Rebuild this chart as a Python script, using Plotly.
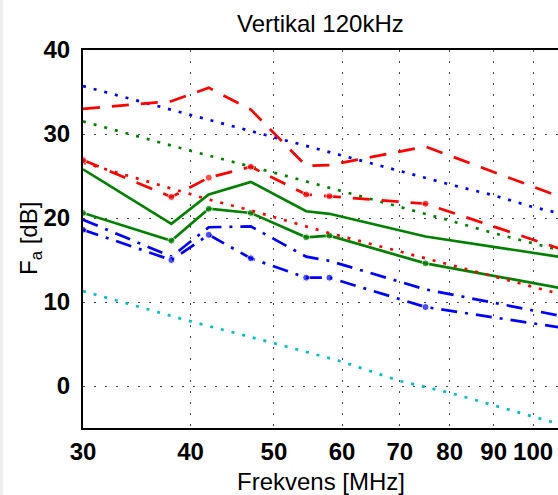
import math
import plotly.graph_objects as go

# measured frequencies (MHz) and field strengths (dB)
freq = [30, 38, 42, 47, 54.5, 58, 75, 107]
red_dash = [33.0, 33.9, 35.5, 32.9, 26.2, 26.3, 28.5, 22.6]
red_dash_marked = [26.9, 22.5, 24.8, 26.1, 22.8, 22.6, 21.7, 16.4]
red_dot = [26.6, 23.5, 22.2, 20.9, 19.0, 18.2, 15.2, 11.0]
green_solid = [25.8, 19.3, 22.8, 24.3, 20.8, 20.5, 17.8, 15.4]
green_solid_marked = [20.6, 17.3, 21.1, 20.6, 17.7, 17.9, 14.6, 11.7]
blue_dashdot = [19.8, 15.4, 18.9, 19.0, 15.4, 14.9, 11.5, 8.4]
blue_dashdot_marked = [18.6, 15.0, 18.0, 15.2, 12.9, 12.9, 9.4, 7.0]

# reference curves
model_freq = [30, 40, 50, 60, 70, 80, 90, 100, 107]
blue_dot = [35.7, 32.3, 29.6, 27.5, 25.6, 24.0, 22.7, 21.3, 20.6]
green_dot = [31.5, 28.0, 25.4, 23.2, 21.3, 19.7, 18.2, 17.0, 16.2]
cyan_dot = [11.3, 7.7, 5.1, 2.9, 0.6, -0.8, -2.3, -3.6, -4.5]

x_ticks = [30, 40, 50, 60, 70, 80, 90, 100]
y_ticks = [0, 10, 20, 30, 40]

RED = "#FF0000"
GREEN = "#008000"
BLUE = "#0000FF"
CYAN = "#00BFBF"
DOT = "3px,8px"
DASH = "17px,12px"
DASHDOT = "16px,8px,3px,8px"
LW = 2.7

fig = go.Figure()


def add(x, y, color, dash, markers=False):
    kw = dict(x=x, y=y, mode="lines", showlegend=False, hoverinfo="skip",
              line=dict(color=color, width=LW, dash=dash))
    if markers:
        kw["mode"] = "lines+markers"
        kw["marker"] = dict(color=color, size=[7] * (len(x) - 1) + [0])
    fig.add_trace(go.Scatter(**kw))


add(model_freq, cyan_dot, CYAN, DOT)
add(model_freq, blue_dot, BLUE, DOT)
add(model_freq, green_dot, GREEN, DOT)
add(freq, blue_dashdot, BLUE, DASHDOT)
add(freq, blue_dashdot_marked, BLUE, DASHDOT, True)
add(freq, green_solid, GREEN, "solid")
add(freq, green_solid_marked, GREEN, "solid", True)
add(freq, red_dot, RED, DOT)
add(freq, red_dash_marked, RED, DASH, True)
add(freq, red_dash, RED, DASH)

W, H = 558, 495
ML, MT, MB = 83, 50, 67
pw = W - ML
ph = H - MT - MB

tickfont = dict(family="Liberation Sans, Arial, sans-serif", size=24,
                color="black", weight="bold")
labfont = dict(family="Liberation Sans, Arial, sans-serif", size=24,
               color="black")

fig.update_layout(
    width=W, height=H,
    margin=dict(l=ML, r=0, t=MT, b=MB, pad=0),
    paper_bgcolor="white", plot_bgcolor="white",
    xaxis=dict(type="log", range=[math.log10(30), math.log10(106.9)],
               tickvals=x_ticks, ticktext=[str(v) for v in x_ticks],
               tickfont=tickfont, ticks="", ticklabelstandoff=1,
               showline=True, linecolor="black", linewidth=2, mirror=True,
               showgrid=True, gridcolor="#444444", gridwidth=1,
               griddash="2px,9px", zeroline=False),
    yaxis=dict(range=[-5, 40], tickvals=y_ticks,
               ticktext=[str(v) for v in y_ticks],
               tickfont=tickfont, ticks="", ticklabelstandoff=6,
               showline=True, linecolor="black", linewidth=2, mirror=False,
               showgrid=True, gridcolor="#444444", gridwidth=1,
               griddash="2px,9px", zeroline=False),
    annotations=[
        dict(text="Vertikal 120kHz", xref="paper", yref="paper",
             x=0.5, y=1 + (MT - 24) / ph, xanchor="center", yanchor="middle",
             showarrow=False, font=labfont),
        dict(text="Frekvens [MHz]", xref="paper", yref="paper",
             x=0.5, y=-(481 - (H - MB)) / ph, xanchor="center",
             yanchor="middle", showarrow=False, font=labfont),
        dict(text="F<sub>a</sub> [dB]", xref="paper", yref="paper",
             x=-(ML - 30) / pw, y=0.5, xanchor="center", yanchor="middle",
             textangle=-90, showarrow=False, font=labfont),
    ],
    shapes=[dict(type="rect", xref="paper", yref="paper",
                 x0=-ML / pw, x1=-(ML - 3) / pw, y0=-MB / ph, y1=1 + MT / ph,
                 fillcolor="#EFEFEF", line=dict(width=0), layer="below")],
)

fig.write_html("out.html", config={"displayModeBar": False},
               post_script="document.body.style.margin='0';"
                           "document.body.style.overflow='hidden';")
